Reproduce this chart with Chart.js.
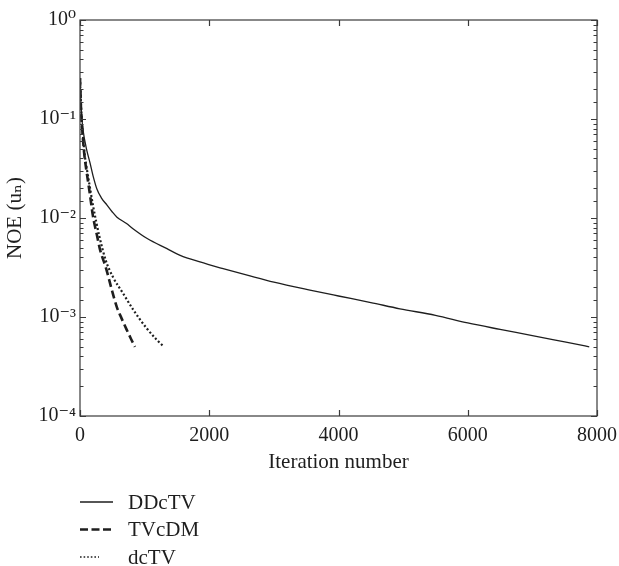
<!DOCTYPE html>
<html><head><meta charset="utf-8">
<script src="https://cdn.jsdelivr.net/npm/chart.js@4.4.1/dist/chart.umd.min.js"></script>
<style>html,body{margin:0;padding:0;background:#fff;}</style>
</head><body>
<canvas id="c" width="619" height="566"></canvas>
<script>
const seriesNames = ['DDcTV', 'TVcDM', 'dcTV'];

const iterDDcTV = [0, 10, 30, 50, 100, 155, 200, 263, 330, 418, 500, 572, 720, 820, 1040, 1346, 1550, 1856, 2200, 2630, 3000, 3558, 4000, 4500, 4950, 5500, 6000, 6500, 7000, 7500, 7880];
const noeDDcTV  = [0.26, 0.17, 0.1, 0.075, 0.05, 0.036, 0.027, 0.0195, 0.016, 0.0135, 0.0115, 0.0102, 0.0088, 0.0078, 0.0062, 0.0049, 0.0042, 0.0036, 0.0031, 0.0026, 0.00225, 0.00187, 0.00163, 0.0014, 0.00121, 0.00104, 0.00087, 0.00075, 0.00065, 0.00056, 0.0005];

const iterTVcDM = [0, 15, 40, 70, 100, 150, 200, 260, 310, 410, 490, 570, 640, 720, 790, 850];
const noeTVcDM  = [0.26, 0.13, 0.07, 0.042, 0.03, 0.018, 0.0105, 0.0068, 0.0048, 0.003, 0.0019, 0.00126, 0.00098, 0.00075, 0.0006, 0.0005];

const iterDcTV = [0, 15, 40, 70, 100, 150, 200, 250, 300, 400, 515, 670, 825, 1031, 1186, 1300];
const noeDcTV  = [0.26, 0.14, 0.075, 0.045, 0.033, 0.021, 0.0135, 0.0092, 0.0065, 0.0037, 0.0025, 0.00172, 0.00118, 0.00077, 0.00059, 0.0005];

const xTickValues = [0, 2000, 4000, 6000, 8000];
const yDecades = [-4, -3, -2, -1, 0];
const yTickLabels = ['10\u207B\u2074', '10\u207B\u00B3', '10\u207B\u00B2', '10\u207B\u00B9', '10\u2070'];
const xTitle = 'Iteration number';
const yTitle = 'NOE (u\u2099)';

const FONT_FAMILY = "'Liberation Serif', 'Times New Roman', 'DejaVu Serif', serif";
const tickFont = { family: FONT_FAMILY, size: 20 };
const titleFont = { family: FONT_FAMILY, size: 21 };
const INK = '#1e1e1e';

function toPoints(xs, ys) { return xs.map((v, i) => ({ x: v, y: ys[i] })); }

const frame = {
  id: 'frame',
  afterDatasetsDraw(chart) {
    const { ctx, chartArea: a, scales: { x, y } } = chart;
    ctx.save();
    ctx.strokeStyle = '#3a3a3a';
    ctx.lineWidth = 1.2;
    ctx.strokeRect(a.left, a.top, a.right - a.left, a.bottom - a.top);
    ctx.beginPath();
    x.ticks.forEach(t => {
      const px = Math.round(x.getPixelForValue(t.value)) + 0.5;
      ctx.moveTo(px, a.bottom); ctx.lineTo(px, a.bottom - 6);
      ctx.moveTo(px, a.top); ctx.lineTo(px, a.top + 6);
    });
    y.ticks.forEach(t => {
      const e = Math.log10(t.value);
      const major = Math.abs(e - Math.round(e)) < 1e-9;
      const L = major ? 6 : 3.5;
      const py = Math.round(y.getPixelForValue(t.value)) + 0.5;
      ctx.moveTo(a.left, py); ctx.lineTo(a.left + L, py);
      ctx.moveTo(a.right, py); ctx.lineTo(a.right - L, py);
    });
    ctx.stroke();
    ctx.restore();
  }
};

const stackedLegend = {
  id: 'stackedLegend',
  afterDraw(chart, args, opts) {
    const { ctx, chartArea: a, scales: { x } } = chart;
    ctx.save();
    ctx.font = '21px ' + FONT_FAMILY;
    ctx.textBaseline = 'alphabetic';
    ctx.fillStyle = INK;
    chart.data.datasets.forEach((ds, i) => {
      const yy = 502 + i * 27.5;
      ctx.beginPath();
      ctx.setLineDash(opts.dashes[i]);
      ctx.lineWidth = opts.widths[i];
      ctx.strokeStyle = ds.borderColor;
      ctx.moveTo(a.left, yy);
      ctx.lineTo(a.left + opts.lengths[i], yy);
      ctx.stroke();
      ctx.setLineDash([]);
      ctx.fillText(ds.label, a.left + 48, yy + 6.5);
    });
    ctx.restore();
  }
};

new Chart(document.getElementById('c'), {
  type: 'line',
  data: {
    datasets: [
      { label: seriesNames[0], data: toPoints(iterDDcTV, noeDDcTV), borderColor: INK, borderWidth: 1.3, pointRadius: 0, cubicInterpolationMode: 'monotone' },
      { label: seriesNames[1], data: toPoints(iterTVcDM, noeTVcDM), borderColor: INK, borderWidth: 2.6, borderDash: [8, 4], pointRadius: 0, cubicInterpolationMode: 'monotone' },
      { label: seriesNames[2], data: toPoints(iterDcTV, noeDcTV), borderColor: INK, borderWidth: 2.2, borderDash: [2, 2.2], pointRadius: 0, cubicInterpolationMode: 'monotone' }
    ]
  },
  options: {
    responsive: false,
    animation: false,
    devicePixelRatio: 1,
    layout: { padding: { left: 0, right: 22, top: 20, bottom: 91.4 } },
    plugins: {
      legend: { display: false },
      tooltip: { enabled: false },
      stackedLegend: { dashes: [[], [8, 3.5], [1.6, 2]], widths: [1.3, 2.6, 1.6], lengths: [33, 33, 19] }
    },
    scales: {
      x: {
        type: 'linear', min: 0, max: 8000,
        grid: { display: false, drawTicks: false },
        border: { display: false },
        ticks: {
          stepSize: 2000, maxRotation: 0, autoSkip: false, padding: 8,
          font: tickFont, color: INK,
          callback: v => xTickValues.includes(v) ? String(v) : null
        },
        title: { display: true, text: xTitle, font: titleFont, color: INK, padding: { top: 0, bottom: 0 } },
        afterFit(s) { s.height = 58.6; s.paddingLeft = 0; s.paddingRight = 0; }
      },
      y: {
        type: 'logarithmic', min: 1e-4, max: 1,
        grid: { display: false, drawTicks: false },
        border: { display: false },
        ticks: {
          autoSkip: false, padding: 4, font: tickFont, color: INK,
          callback: v => {
            const e = Math.log10(v);
            const k = yDecades.indexOf(Math.round(e));
            return (Math.abs(e - Math.round(e)) < 1e-9 && k >= 0) ? yTickLabels[k] : '';
          }
        },
        title: { display: true, text: yTitle, font: titleFont, color: INK, padding: { top: 3, bottom: 0 } },
        afterFit(s) { s.width = 80; s.paddingTop = 0; s.paddingBottom = 0; }
      }
    }
  },
  plugins: [frame, stackedLegend]
});
</script>
</body></html>
